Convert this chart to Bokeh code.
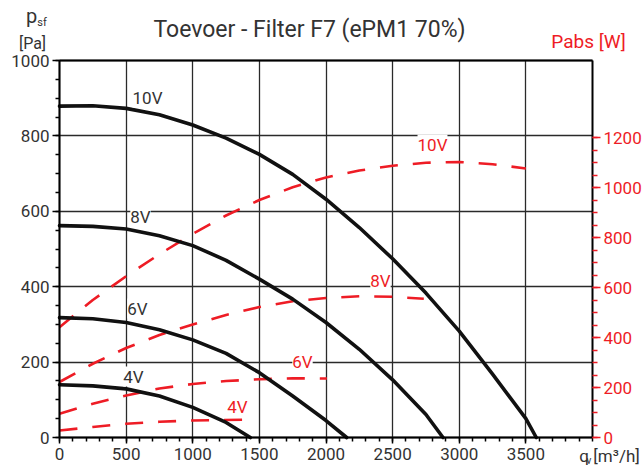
from bokeh.plotting import figure
from bokeh.models import Range1d, LinearAxis, FixedTicker, Label, Grid
from bokeh.embed import file_html
from bokeh.resources import INLINE

# ---- data ----
# pressure curves p_sf [Pa] vs q_v [m3/h]
q_10v = [0, 250, 500, 750, 1000, 1250, 1500, 1750, 2000, 2250, 2500, 2750, 3000, 3250, 3500, 3578]
p_10v = [879, 880, 873, 856, 829, 794, 751, 698, 632, 557, 474, 383, 282, 168, 50, 0]

q_8v = [0, 250, 500, 750, 1000, 1250, 1500, 1750, 2000, 2250, 2500, 2750, 2878]
p_8v = [562, 560, 553, 535, 509, 470, 420, 367, 305, 234, 153, 61, 0]

q_6v = [0, 250, 500, 750, 1000, 1250, 1500, 1750, 2000, 2155]
p_6v = [318, 315, 305, 286, 259, 223, 172, 110, 45, 0]

q_4v = [0, 250, 500, 750, 1000, 1250, 1432]
p_4v = [140, 137, 129, 110, 80, 40, 0]

# absorbed power Pabs [W] vs q_v [m3/h]
qw_10v = [0, 250, 500, 750, 1000, 1250, 1500, 1750, 2000, 2250, 2500, 2750, 3000, 3250, 3500]
w_10v = [441, 550, 645, 733, 815, 888, 950, 1001, 1040, 1068, 1087, 1099, 1102, 1093, 1076]

qw_8v = [0, 250, 500, 750, 1000, 1250, 1500, 1750, 2000, 2250, 2500, 2734]
w_8v = [222, 295, 358, 410, 452, 490, 522, 545, 558, 565, 563, 555]

qw_6v = [0, 250, 500, 750, 1000, 1250, 1500, 1750, 2007]
w_6v = [95, 135, 168, 196, 214, 226, 233, 237, 236]

qw_4v = [0, 250, 500, 750, 1000, 1200, 1407]
w_4v = [28, 42, 55, 63, 68, 70, 71]

x_ticks = [0, 500, 1000, 1500, 2000, 2500, 3000, 3500]
y_ticks = [0, 200, 400, 600, 800, 1000]
w_ticks = [0, 200, 400, 600, 800, 1000, 1200]
x_max, y_max, w_max = 4000, 1000, 1508   # plot-area limits (right axis scaled to match)

TITLE = "Toevoer - Filter F7 (ePM1 70%)"

# ---- layout: the frame fills the canvas, the plot area sits at these pixels ----
W_PX, H_PX = 644, 466
L_PX, R_PX, T_PX, B_PX = 59, 592, 60, 437


def dx(px):
    return (px - L_PX) / (R_PX - L_PX) * x_max


def dy(py):
    return (B_PX - py) / (B_PX - T_PX) * y_max


def dw(py):
    return (B_PX - py) / (B_PX - T_PX) * w_max


FONT = "Roboto"
TXT = "#333333"
RED = "#ee1c25"
GRID = "#2a2a2a"

p = figure(width=W_PX, height=H_PX,
           x_range=Range1d(dx(0), dx(W_PX)), y_range=Range1d(dy(H_PX), dy(0)),
           output_backend="svg", toolbar_location=None, min_border=0)
p.title.visible = False
p.background_fill_color = "white"
p.border_fill_color = "white"
p.outline_line_color = None
p.extra_y_ranges = {"pw": Range1d(dw(H_PX), dw(0))}

# ---- grids limited to the plot area ----
xg, yg = p.xgrid[0], p.ygrid[0]
xg.ticker = FixedTicker(ticks=x_ticks)
yg.ticker = FixedTicker(ticks=y_ticks)
for g in (xg, yg):
    g.grid_line_color = GRID
    g.grid_line_width = 1.3
top_line = Grid(dimension=1, ticker=FixedTicker(ticks=[y_max]),
                grid_line_color="black", grid_line_width=2)
try:
    xg.bounds = (0, x_max)
    xg.cross_bounds = (0, y_max)
    yg.bounds = (0, y_max)
    yg.cross_bounds = (0, x_max)
    top_line.bounds = (0, 1100)
    top_line.cross_bounds = (0, x_max)
    p.add_layout(top_line)
except Exception:
    xg.visible = False
    yg.visible = False
    p.segment(x0=x_ticks[1:], y0=0, x1=x_ticks[1:], y1=y_max, line_color=GRID, line_width=1.3)
    p.segment(x0=0, y0=y_ticks[1:-1], x1=x_max, y1=y_ticks[1:-1], line_color=GRID, line_width=1.3)
    p.segment(x0=0, y0=y_max, x1=x_max, y1=y_max, line_color="black", line_width=2)


def style_axis(ax, color_ticks, color_labels, tick_out, minor_out, standoff):
    ax.axis_line_color = "black"
    ax.axis_line_width = 2
    ax.major_tick_out = tick_out
    ax.major_tick_in = 0
    ax.minor_tick_out = minor_out
    ax.minor_tick_in = 0
    ax.major_tick_line_color = color_ticks
    ax.minor_tick_line_color = color_ticks
    ax.major_tick_line_width = 1.5
    ax.minor_tick_line_width = 1.5
    ax.major_label_text_font = FONT
    ax.major_label_text_font_size = "17px"
    ax.major_label_text_color = color_labels
    ax.major_label_standoff = standoff


# bottom axis
xa = p.xaxis[0]
xa.fixed_location = 0
xa.bounds = (0, x_max)
xa.ticker = FixedTicker(ticks=x_ticks, minor_ticks=list(range(0, x_max + 1, 100)))
style_axis(xa, "black", TXT, 6, 4, 4)

# left axis
ya = p.yaxis[0]
ya.fixed_location = 0
ya.bounds = (0, y_max)
ya.ticker = FixedTicker(ticks=y_ticks, minor_ticks=list(range(0, y_max + 1, 50)))
style_axis(ya, "black", TXT, 7, 4, 3)

# right axis (power)
ra = LinearAxis(y_range_name="pw", fixed_location=x_max, bounds=(0, w_max),
                ticker=FixedTicker(ticks=w_ticks, minor_ticks=list(range(0, 1201, 50))))
style_axis(ra, RED, RED, 8, 5, 3)
p.add_layout(ra, "right")

# ---- curves ----
for q, v in ((qw_10v, w_10v), (qw_8v, w_8v), (qw_6v, w_6v), (qw_4v, w_4v)):
    p.line(q, v, y_range_name="pw", line_color=RED, line_width=2.6, line_dash="18 15")
for q, v in ((q_10v, p_10v), (q_8v, p_8v), (q_6v, p_6v), (q_4v, p_4v)):
    p.line(q, v, line_color="#111111", line_width=3.6, line_cap="round", line_join="round")


def lab(text, px, py, size, color, bg=None):
    kw = {}
    if bg:
        kw = dict(background_fill_color=bg, background_fill_alpha=1.0)
    p.add_layout(Label(x=dx(px), y=dy(py), text=text, text_font=FONT,
                       text_font_size=size, text_color=color, text_align="center",
                       text_baseline="middle", **kw))


# curve labels (black)
lab("10V", 147, 97, "17px", TXT, bg="white")
lab("8V", 140, 216, "17px", TXT, bg="white")
lab("6V", 137, 308, "17px", TXT, bg="white")
lab("4V", 133, 376, "17px", TXT, bg="white")
# curve labels (red)
lab("10V", 432, 144, "17px", RED, bg="white")
lab("8V", 380, 280, "17px", RED, bg="white")
lab("6V", 302, 361, "17px", RED, bg="white")
lab("4V", 237, 406, "17px", RED, bg="white")

# title and axis titles
lab(TITLE, 309, 29, "23px", TXT)
lab("p", 31, 15, "20px", TXT)
lab("sf", 41.5, 22, "11px", TXT)
lab("[Pa]", 32, 42.5, "16px", TXT)
lab("Pabs [W]", 588, 41, "19px", RED)
lab("q", 583.5, 455, "17px", TXT)
lab("v", 588.5, 460, "10px", TXT)
lab("[m\u00b3/h]", 616, 455, "17px", TXT)

open("out.html", "w").write(file_html(p, INLINE))
